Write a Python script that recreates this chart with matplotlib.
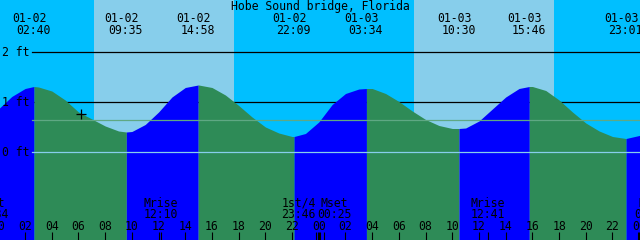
import matplotlib
matplotlib.use("Agg")
import matplotlib.pyplot as plt
from matplotlib.transforms import blended_transform_factory

# hours counted from 01-02 00:00
title = "Hobe Sound bridge, Florida"

hourly_times = list(range(0, 50))
hourly_levels = [0.86, 1.11, 1.27, 1.30, 1.22, 1.04, 0.80, 0.66, 0.52, 0.42,
                 0.41, 0.55, 0.80, 1.10, 1.29, 1.34, 1.29, 1.14, 0.93, 0.70,
                 0.50, 0.38, 0.31, 0.37, 0.60, 0.95, 1.17, 1.26, 1.27, 1.17,
                 1.01, 0.82, 0.65, 0.53, 0.47, 0.48, 0.62, 0.86, 1.10, 1.27,
                 1.31, 1.23, 1.04, 0.80, 0.58, 0.42, 0.31, 0.27, 0.33, 0.48]

extreme_times = [2.667, 9.583, 14.967, 22.15, 27.567, 34.5, 39.767, 47.017]
extreme_levels = [1.31, 0.40, 1.34, 0.31, 1.27, 0.47, 1.31, 0.27]
extreme_dates = ["01-02", "01-02", "01-02", "01-02", "01-03", "01-03", "01-03", "01-03"]
extreme_clock = ["02:40", "09:35", "14:58", "22:09", "03:34", "10:30", "15:46", "23:01"]

sunrise = [7.16, 31.13]
sunset = [17.65, 41.62]

moon_times = [-0.433, 12.167, 23.767, 24.417, 36.683, 49.1]
moon_names = ["Mset", "Mrise", "1st/4", "Mset", "Mrise", "Mset"]
moon_clock = ["23:34", "12:10", "23:46", "00:25", "12:41", "01:06"]
moon_shift = [-0.1, 0.0, -1.29, 0.72, 0.0, -0.15]  # label nudges, hours

grid_levels = [1, 2]
datum_level = 0
msl_level = 0.64
now_time = 6.19
now_level = 0.77

NIGHT = "#00BFFF"
DAY = "#87CEEB"
RISE = "#0000FF"
FALL = "#2E8B57"
FONT = "DejaVu Sans Mono"
FS = 8.3

fig = plt.figure(figsize=(6.4, 2.4), dpi=100)
ax = fig.add_axes([0, 0, 1, 1])
ax.set_xlim(0.12, 48.06)
ax.set_ylim(-1.76, 3.04)
ax.axis("off")
tr = blended_transform_factory(ax.transData, ax.transAxes)


def py(p):
    # pixel row -> axes fraction
    return 1 - p / 240.0


# sky
ax.axvspan(-5, 55, color=NIGHT, zorder=0, lw=0)
for a, b in zip(sunrise, sunset):
    ax.axvspan(a, b, color=DAY, zorder=0, lw=0)

for g in grid_levels:
    ax.axhline(g, xmin=0.05, color="black", lw=0.9, zorder=1)

# tide curve = hourly readings + the extremes themselves
pts = sorted(zip(hourly_times + extreme_times, hourly_levels + extreme_levels))
ts = [p[0] for p in pts]
hs = [p[1] for p in pts]

bounds = [ts[0]] + extreme_times + [ts[-1]]
for i in range(len(bounds) - 1):
    t0, t1 = bounds[i], bounds[i + 1]
    seg_t = [t for t in ts if t0 <= t <= t1]
    seg_h = [h for t, h in zip(ts, hs) if t0 <= t <= t1]
    # first segment rises to the first high water
    col = RISE if i % 2 == 0 else FALL
    ax.fill_between(seg_t, seg_h, -2, color=col, lw=0, zorder=2)

ax.axhline(datum_level, xmin=0.05, color="#87CEEB", lw=0.9, zorder=3)
ax.axhline(msl_level, xmin=0.05, color="#5FA884", lw=0.9, zorder=3)

ax.plot([now_time], [now_level], marker="+", color="black", ms=7, mew=0.9, zorder=4)

# text
ax.text(0.5, py(10), title, transform=ax.transAxes, ha="center", va="baseline",
        family=FONT, fontsize=FS)
for t, d, c in zip(extreme_times, extreme_dates, extreme_clock):
    ax.text(t - 0.34, py(22), d, transform=tr, ha="center", va="baseline",
            family=FONT, fontsize=FS)
    ax.text(t - 0.04, py(34.3), c, transform=tr, ha="center", va="baseline",
            family=FONT, fontsize=FS)

for g, lab in zip([0, 1, 2], ["0 ft", "1 ft", "2 ft"]):
    ax.text(1.5 / 640, g, lab, transform=blended_transform_factory(ax.transAxes, ax.transData),
            ha="left", va="center", family=FONT, fontsize=FS, zorder=5)

hours = list(range(0, 49, 2))
for h in hours:
    ax.text(h, py(229.5), "%02d" % (h % 24), transform=tr, ha="center", va="baseline",
            family=FONT, fontsize=FS)
    lw = 2.2 if h % 24 == 0 else 0.8
    ax.plot([h, h], [0, 8 / 240.0], transform=tr, color="black", lw=lw,
            solid_capstyle="butt", zorder=5)

for t, n, c, s in zip(moon_times, moon_names, moon_clock, moon_shift):
    ax.text(t + s, py(207), n, transform=tr, ha="center", va="baseline",
            family=FONT, fontsize=FS)
    ax.text(t + s, py(217.7), c, transform=tr, ha="center", va="baseline",
            family=FONT, fontsize=FS)
    ax.plot([t, t], [0, 8 / 240.0], transform=tr, color="black", lw=0.8,
            solid_capstyle="butt", zorder=5)

fig.savefig("out.png", dpi=100)
